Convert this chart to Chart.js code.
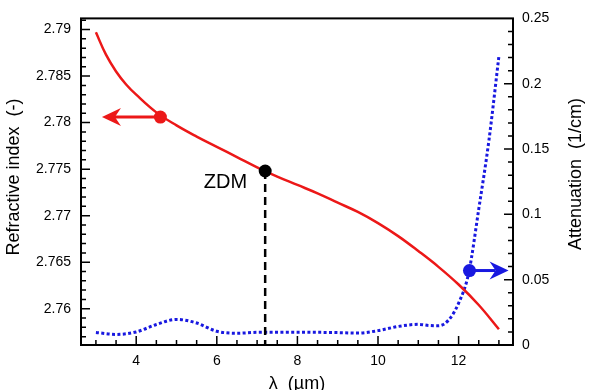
<!DOCTYPE html>
<html>
<head>
<meta charset="utf-8">
<script src="https://cdn.jsdelivr.net/npm/chart.js@4"></script>
<style>
  html, body { margin: 0; padding: 0; background: #fff; }
  canvas { display: block; }
</style>
</head>
<body>
<canvas id="chart" width="589" height="390"></canvas>
<script>
// refractive index curve (left axis)
const wavelength = [3, 3.25, 3.5, 3.75, 4, 4.5, 5, 5.5, 6, 6.5, 7, 7.5, 8, 8.5, 9, 9.5, 10, 10.5, 11, 11.5, 12, 12.5, 13];
const refractiveIndex = [2.7897, 2.7873, 2.7855, 2.7841, 2.7830, 2.7811, 2.7797, 2.7785, 2.7774, 2.7763, 2.7752, 2.7742,
  2.7733, 2.7724, 2.7714, 2.7704, 2.7692, 2.7678, 2.7662, 2.7645, 2.7626, 2.7604, 2.7578];

// attenuation curve (right axis)
const attenuationWavelength = [3, 3.5, 4, 4.5, 5, 5.5, 6, 6.5, 7, 7.5, 8, 8.5, 9, 9.5, 10, 10.5, 11, 11.25, 11.5, 11.75, 12, 12.25, 12.5, 12.75, 13];
const attenuation = [0.0096, 0.0081, 0.0100, 0.0157, 0.0196, 0.0168, 0.0105, 0.0090, 0.0097, 0.0098, 0.0098, 0.0097, 0.0095,
  0.0091, 0.0110, 0.0142, 0.0158, 0.0150, 0.0147, 0.0190, 0.0320, 0.0550, 0.1040, 0.1560, 0.2210];

// tick labels
const xTicks = [4, 6, 8, 10, 12];
const indexTicks = [2.76, 2.765, 2.77, 2.775, 2.78, 2.785, 2.79];
const attenuationTicks = [0, 0.05, 0.1, 0.15, 0.2, 0.25];

// annotations
const zdmPoint = { x: 7.2, y: 2.7748, label: "ZDM" };
const indexMarker = { x: 4.6, y: 2.7806, arrowTo: 3.15 };
const attenuationMarker = { x: 12.27, y: 0.057, arrowTo: 13.24 };

const xRange = [2.63, 13.35];
const indexRange = [2.7561, 2.7912];
const attenuationRange = [0, 0.25];

const RED = "rgb(236,24,24)";
const BLUE = "rgb(24,24,224)";
const FONT = '"Liberation Sans", Arial, Helvetica, sans-serif';

function drawArrow(ctx, x0, y, x1, color) {
    const dir = Math.sign(x1 - x0);
    const len = 19, half = 9, notch = 6;
    ctx.save();
    ctx.strokeStyle = color;
    ctx.fillStyle = color;
    ctx.lineWidth = 3;
    ctx.beginPath();
    ctx.moveTo(x0, y);
    ctx.lineTo(x1 - dir * (len - notch), y);
    ctx.stroke();
    ctx.beginPath();
    ctx.moveTo(x1, y);
    ctx.lineTo(x1 - dir * len, y - half);
    ctx.lineTo(x1 - dir * (len - notch), y);
    ctx.lineTo(x1 - dir * len, y + half);
    ctx.closePath();
    ctx.fill();
    ctx.restore();
}

const framePlugin = {
    id: "frame",
    afterDatasetsDraw(chart) {
        const { ctx, scales } = chart;
        const { x, y, y1 } = scales;
        // arrows
        drawArrow(ctx, x.getPixelForValue(indexMarker.x), y.getPixelForValue(indexMarker.y),
            x.getPixelForValue(indexMarker.arrowTo), RED);
        drawArrow(ctx, x.getPixelForValue(attenuationMarker.x), y1.getPixelForValue(attenuationMarker.y),
            x.getPixelForValue(attenuationMarker.arrowTo), BLUE);
        // ZDM label
        ctx.save();
        ctx.font = "20px " + FONT;
        ctx.fillStyle = "#000";
        ctx.textAlign = "right";
        ctx.textBaseline = "alphabetic";
        ctx.fillText(zdmPoint.label, x.getPixelForValue(zdmPoint.x) - 18, y.getPixelForValue(zdmPoint.y) + 17);
        ctx.restore();
    },
    afterDraw(chart) {
        const { ctx, chartArea: a, scales } = chart;
        const { x, y, y1 } = scales;
        ctx.save();
        ctx.strokeStyle = "#000";
        ctx.lineWidth = 1.5;
        ctx.beginPath();
        // bottom ticks every 0.5
        for (let k = 6; k <= 26; k++) {
            const v = k / 2;
            const px = x.getPixelForValue(v);
            const len = v % 2 === 0 ? 9 : 5;
            ctx.moveTo(px, a.bottom);
            ctx.lineTo(px, a.bottom - len);
        }
        // left ticks every 0.001
        for (let k = 2757; k <= 2791; k++) {
            const py = y.getPixelForValue(k / 1000);
            const len = k % 5 === 0 ? 9 : 5;
            ctx.moveTo(a.left, py);
            ctx.lineTo(a.left + len, py);
        }
        // right ticks every 0.01
        for (let k = 1; k <= 24; k++) {
            const py = y1.getPixelForValue(k / 100);
            const len = k % 5 === 0 ? 9 : 5;
            ctx.moveTo(a.right, py);
            ctx.lineTo(a.right - len, py);
        }
        ctx.stroke();
        ctx.lineWidth = 2;
        ctx.strokeRect(a.left, a.top, a.right - a.left, a.bottom - a.top);

        // axis titles
        ctx.fillStyle = "#000";
        ctx.font = "18px " + FONT;
        ctx.textAlign = "center";
        ctx.textBaseline = "middle";
        ctx.save();
        ctx.translate(14, 177);
        ctx.rotate(-Math.PI / 2);
        ctx.fillText("Refractive index  (-)", 0, 0);
        ctx.restore();
        ctx.save();
        ctx.translate(576, 174);
        ctx.rotate(-Math.PI / 2);
        ctx.fillText("Attenuation  (1/cm)", 0, 0);
        ctx.restore();
        ctx.textBaseline = "alphabetic";
        ctx.fillText("λ  (µm)", (a.left + a.right) / 2, 389);
        ctx.restore();
    }
};

const tickFont = { family: FONT, size: 14 };

new Chart(document.getElementById("chart"), {
    type: "scatter",
    data: {
        datasets: [
            {
                data: [{ x: zdmPoint.x, y: zdmPoint.y }],
                yAxisID: "y",
                pointRadius: 6.5,
                pointBackgroundColor: "#000",
                pointBorderWidth: 0,
            },
            {
                data: [{ x: indexMarker.x, y: indexMarker.y }],
                yAxisID: "y",
                pointRadius: 6.5,
                pointBackgroundColor: RED,
                pointBorderWidth: 0,
            },
            {
                data: [{ x: attenuationMarker.x, y: attenuationMarker.y }],
                yAxisID: "y1",
                pointRadius: 6.5,
                pointBackgroundColor: BLUE,
                pointBorderWidth: 0,
            },
            {
                data: [{ x: zdmPoint.x, y: zdmPoint.y }, { x: zdmPoint.x, y: indexRange[0] }],
                yAxisID: "y",
                showLine: true,
                borderColor: "#000",
                borderWidth: 2.5,
                borderDash: [8, 5],
                pointRadius: 0,
            },
            {
                data: wavelength.map((w, i) => ({ x: w, y: refractiveIndex[i] })),
                yAxisID: "y",
                showLine: true,
                borderColor: RED,
                borderWidth: 2.5,
                tension: 0.4,
                pointRadius: 0,
            },
            {
                data: attenuationWavelength.map((w, i) => ({ x: w, y: attenuation[i] })),
                yAxisID: "y1",
                showLine: true,
                borderColor: BLUE,
                borderWidth: 3,
                borderDash: [3, 2.4],
                cubicInterpolationMode: "monotone",
                pointRadius: 0,
            },
        ],
    },
    options: {
        responsive: false,
        animation: false,
        layout: { padding: { top: 13, left: 0, right: 0, bottom: 0 } },
        plugins: {
            legend: { display: false },
            tooltip: { enabled: false },
        },
        scales: {
            x: {
                type: "linear",
                position: "bottom",
                min: xRange[0],
                max: xRange[1],
                afterBuildTicks: (s) => { s.ticks = xTicks.map(v => ({ value: v })); },
                afterFit: (s) => { s.height = 45; },
                grid: { display: false, drawTicks: false },
                border: { display: false },
                ticks: { font: tickFont, color: "#000", padding: 8, maxRotation: 0, callback: v => String(v) },
            },
            y: {
                type: "linear",
                position: "left",
                min: indexRange[0],
                max: indexRange[1],
                afterBuildTicks: (s) => { s.ticks = indexTicks.map(v => ({ value: v })); },
                afterFit: (s) => { s.width = 81; },
                grid: { display: false, drawTicks: false },
                border: { display: false },
                ticks: { font: tickFont, color: "#000", padding: 10, callback: v => String(v) },
            },
            y1: {
                type: "linear",
                position: "right",
                min: attenuationRange[0],
                max: attenuationRange[1],
                afterBuildTicks: (s) => { s.ticks = attenuationTicks.map(v => ({ value: v })); },
                afterFit: (s) => { s.width = 76; },
                grid: { display: false, drawTicks: false },
                border: { display: false },
                ticks: { font: tickFont, color: "#000", padding: 9, callback: v => String(v) },
            },
        },
    },
    plugins: [framePlugin],
});
</script>
</body>
</html>
